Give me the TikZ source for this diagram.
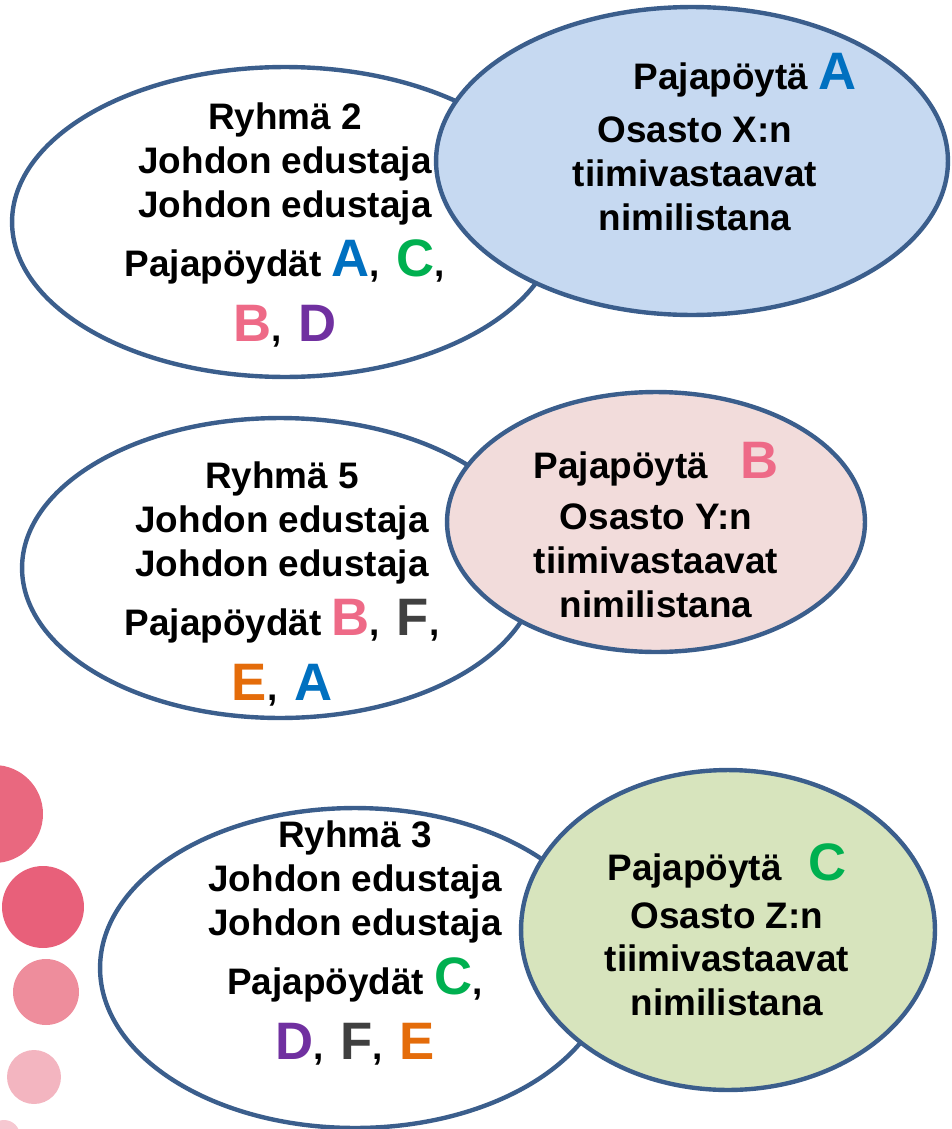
\documentclass[tikz,border=0pt]{standalone}
\usepackage{fontspec}
\setmainfont{Liberation Sans}
\usetikzlibrary{shapes.geometric}
\definecolor{rim}{HTML}{3B5E8C}
\definecolor{fillA}{HTML}{C6D9F1}
\definecolor{fillB}{HTML}{F2DCDB}
\definecolor{fillC}{HTML}{D7E4BD}
\definecolor{la}{HTML}{0070C0}
\definecolor{lb}{HTML}{EE6A87}
\definecolor{lc}{HTML}{00B050}
\definecolor{ld}{HTML}{7030A0}
\definecolor{le}{HTML}{E46C0A}
\definecolor{lf}{HTML}{404040}
\definecolor{dot1}{HTML}{E9687F}
\definecolor{dot2}{HTML}{E8607A}
\definecolor{dot3}{HTML}{EE8D9C}
\definecolor{dot4}{HTML}{F3B5C0}
\definecolor{dot5}{HTML}{F6C8D1}
\newcommand{\tbl}[2]{{\fontsize{30}{25}\selectfont\color{#1}#2}}
\newcommand{\gap}{\hspace{9.5pt}}
\newcommand{\tightlines}{\lineskiplimit=-100pt\relax}

\begin{document}
\begin{tikzpicture}[x=0.02cm, y=-0.02cm,
    group/.style={ellipse, draw=rim, line width=2.5pt, fill=white, inner sep=0pt},
    desk/.style={group, fill=#1},
    txt/.style={align=center, inner sep=0pt,
      font=\bfseries\fontsize{21}{25}\selectfont\tightlines},
  ]
  \useasboundingbox (0,0) rectangle (951,1129);
  \clip (0,0) rectangle (951,1129);

  % dots on the left
  \fill[dot1] (-6,814) circle (0.98cm);
  \fill[dot2] (43,907) circle (0.82cm);
  \fill[dot3] (46,992) circle (0.66cm);
  \fill[dot4] (34,1077) circle (0.54cm);
  \fill[dot5] (4,1136) circle (0.32cm);

  % groups
  \node[group, minimum width=10.92cm, minimum height=6.2cm] (g2) at (285,222) {};
  \node[group, minimum width=10.32cm, minimum height=6.0cm] (g5) at (280,568) {};
  \node[group, minimum width=10.2cm, minimum height=6.4cm] (g3) at (355,968) {};

  % tables
  \node[desk=fillA, minimum width=10.24cm, minimum height=6.16cm] (tA) at (692,161) {};
  \node[desk=fillB, minimum width=8.36cm, minimum height=5.2cm] (tB) at (656,522) {};
  \node[desk=fillC, minimum width=8.28cm, minimum height=6.4cm] (tC) at (728,930) {};

  \node[txt] (g2txt) at (285,225) {Ryhmä 2\\ Johdon edustaja\\ Johdon edustaja\\[9pt]
    Pajapöydät \tbl{la}{A},\gap\tbl{lc}{C},\\[12pt] \tbl{lb}{B},\gap\tbl{ld}{D}};
  \node[txt] (g5txt) at (282,584) {Ryhmä 5\\ Johdon edustaja\\ Johdon edustaja\\[9pt]
    Pajapöydät \tbl{lb}{B},\gap\tbl{lf}{F},\\[12pt] \tbl{le}{E},\gap\tbl{la}{A}};
  \node[txt] (g3txt) at (355,943) {Ryhmä 3\\ Johdon edustaja\\ Johdon edustaja\\[9pt]
    Pajapöydät \tbl{lc}{C},\\[12pt] \tbl{ld}{D},\gap\tbl{lf}{F},\gap\tbl{le}{E}};

  \node[txt] (tAtxt) at (695,142) {\hspace*{2cm}Pajapöytä \tbl{la}{A}\\[5pt]
    Osasto X:n\\ tiimivastaavat\\ nimilistana};
  \node[txt] (tBtxt) at (656,530) {Pajapöytä\hspace{0.6em} \tbl{lb}{B}\\[4pt]
    Osasto Y:n\\ tiimivastaavat\\ nimilistana};
  \node[txt] (tCtxt) at (727,930) {Pajapöytä\hspace{0.45em} \tbl{lc}{C}\\[2pt]
    Osasto Z:n\\ tiimivastaavat\\ nimilistana};
\end{tikzpicture}
\end{document}
